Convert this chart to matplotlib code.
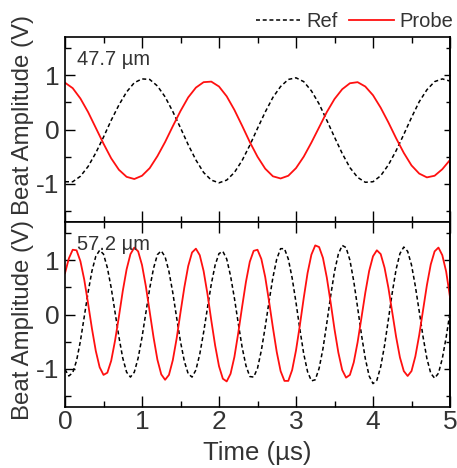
import numpy as np
import matplotlib
matplotlib.use("Agg")
import matplotlib.pyplot as plt
from matplotlib.ticker import MultipleLocator

plt.rcParams['font.family'] = ['Liberation Sans', 'DejaVu Sans']
plt.rcParams['axes.unicode_minus'] = False

# ---------------- data ----------------
t_top = np.linspace(0, 5, 51)
ref_top = [-0.96, -0.96, -0.86, -0.68, -0.43, -0.14, 0.17, 0.45, 0.69, 0.86,
           0.93, 0.92, 0.80, 0.60, 0.33, 0.03, -0.28, -0.56, -0.79, -0.93,
           -0.98, -0.93, -0.79, -0.57, -0.29, 0.02, 0.32, 0.59, 0.79, 0.92,
           0.95, 0.88, 0.71, 0.47, 0.17, -0.14, -0.44, -0.70, -0.88, -0.97,
           -0.96, -0.85, -0.65, -0.39, -0.09, 0.22, 0.51, 0.73, 0.88, 0.93,
           0.89]
probe_top = [0.86, 0.76, 0.57, 0.32, 0.03, -0.26, -0.53, -0.74, -0.87, -0.91,
             -0.85, -0.71, -0.49, -0.23, 0.06, 0.34, 0.59, 0.77, 0.87, 0.88,
             0.79, 0.61, 0.36, 0.07, -0.23, -0.50, -0.72, -0.86, -0.90, -0.85,
             -0.71, -0.50, -0.24, 0.04, 0.32, 0.56, 0.74, 0.85, 0.87, 0.79,
             0.63, 0.40, 0.13, -0.16, -0.43, -0.66, -0.81, -0.88, -0.85, -0.73,
             -0.56]

t_bot = np.linspace(0, 5, 101)
ref_bot = [-1.01, -1.13, -1.07, -0.85, -0.49, -0.04, 0.41, 0.80, 1.07, 1.18,
           1.11, 0.86, 0.49, 0.04, -0.41, -0.80, -1.06, -1.15, -1.06, -0.80,
           -0.42, 0.03, 0.48, 0.85, 1.10, 1.17, 1.06, 0.79, 0.40, -0.06,
           -0.50, -0.86, -1.09, -1.15, -1.02, -0.73, -0.33, 0.12, 0.56, 0.91,
           1.12, 1.16, 1.02, 0.71, 0.30, -0.16, -0.60, -0.94, -1.14, -1.15,
           -0.99, -0.66, -0.23, 0.24, 0.68, 1.02, 1.21, 1.21, 1.02, 0.67,
           0.22, -0.27, -0.72, -1.05, -1.22, -1.20, -0.99, -0.63, -0.16, 0.34,
           0.79, 1.11, 1.27, 1.23, 1.00, 0.61, 0.13, -0.37, -0.81, -1.13,
           -1.27, -1.21, -0.96, -0.57, -0.09, 0.40, 0.83, 1.12, 1.24, 1.16,
           0.91, 0.52, 0.06, -0.41, -0.81, -1.08, -1.17, -1.08, -0.81, -0.42,
           0.04]
probe_bot = [0.76, 1.03, 1.19, 1.18, 0.98, 0.64, 0.20, -0.26, -0.67, -0.97,
             -1.11, -1.07, -0.85, -0.48, -0.04, 0.43, 0.83, 1.11, 1.23, 1.16,
             0.91, 0.52, 0.05, -0.42, -0.83, -1.10, -1.20, -1.11, -0.84, -0.44,
             0.04, 0.50, 0.89, 1.14, 1.21, 1.09, 0.80, 0.38, -0.11, -0.57,
             -0.95, -1.18, -1.23, -1.09, -0.78, -0.34, 0.14, 0.60, 0.97, 1.17,
             1.19, 1.02, 0.69, 0.24, -0.24, -0.69, -1.04, -1.22, -1.22, -1.02,
             -0.66, -0.20, 0.30, 0.76, 1.10, 1.27, 1.24, 1.04, 0.68, 0.22,
             -0.27, -0.70, -1.02, -1.16, -1.11, -0.88, -0.51, -0.06, 0.40, 0.80,
             1.07, 1.18, 1.11, 0.86, 0.49, 0.04, -0.41, -0.79, -1.04, -1.13,
             -1.04, -0.77, -0.38, 0.08, 0.54, 0.92, 1.16, 1.23, 1.09, 0.79,
             0.32]

panel_labels = ["47.7 \u00b5m", "57.2 \u00b5m"]
series_names = ["Ref", "Probe"]
x_ticks = [0, 1, 2, 3, 4, 5]
y_ticks = [-1, 0, 1]

# ---------------- figure ----------------
W, H = 457, 468
fig = plt.figure(figsize=(W / 100, H / 100), dpi=100)
left, right = 65 / W, 450 / W
ax_top = fig.add_axes([left, 1 - 222 / H, right - left, 185 / H])
ax_bot = fig.add_axes([left, 1 - 407 / H, right - left, 185 / H])

txt = '#333333'
RED = '#ff1010'

for ax, tt, rr, pp, lab in [(ax_top, t_top, ref_top, probe_top, panel_labels[0]),
                            (ax_bot, t_bot, ref_bot, probe_bot, panel_labels[1])]:
    ax.plot(tt, rr, color='black', lw=1.1, dashes=(2.6, 1.8), label=series_names[0])
    ax.plot(tt, pp, color=RED, lw=1.3, label=series_names[1])
    ax.set_xlim(0, 5)
    ax.set_ylim(-1.7, 1.7)
    ax.set_xticks(x_ticks)
    ax.set_yticks(y_ticks)
    ax.xaxis.set_minor_locator(MultipleLocator(0.5))
    ax.yaxis.set_minor_locator(MultipleLocator(0.5))
    ax.tick_params(axis='both', which='both', direction='in', top=True, right=False,
                   labelsize=19, labelcolor=txt, color='black', width=1.0)
    ax.tick_params(axis='x', which='major', length=8, pad=2)
    ax.tick_params(axis='x', which='minor', length=4)
    ax.tick_params(axis='y', which='major', length=7, pad=4)
    ax.tick_params(axis='y', which='minor', length=4.5)
    for s in ax.spines.values():
        s.set_linewidth(1.2)
        s.set_color('black')
    sec = ax.secondary_yaxis('right')
    sec.set_yticks(y_ticks)
    sec.yaxis.set_minor_locator(MultipleLocator(0.5))
    sec.tick_params(axis='y', which='both', direction='in', labelright=False)
    sec.tick_params(axis='y', which='major', length=4.5, width=1.0)
    sec.tick_params(axis='y', which='minor', length=3, width=1.0)
    sec.spines['right'].set_linewidth(1.2)
    ax.text(0.03, 0.93, lab, transform=ax.transAxes, fontsize=14.5, color=txt,
            ha='left', va='top')
    ax.set_ylabel("Beat Amplitude (V)", fontsize=17.3, color=txt)

ax_top.tick_params(axis='x', labelbottom=False)
ax_bot.set_xlabel("Time (\u00b5s)", fontsize=18.5, color=txt, labelpad=5)
ax_top.yaxis.set_label_coords(-0.08, 0.576)
ax_bot.yaxis.set_label_coords(-0.08, 0.47)

ax_top.legend(loc='lower right', bbox_to_anchor=(1.025, 1.0), ncol=2, frameon=False,
              borderaxespad=-0.1, handlelength=2.2, handletextpad=0.3,
              columnspacing=0.6, fontsize=14.5, labelcolor=txt)

fig.savefig("out.png", dpi=100)
